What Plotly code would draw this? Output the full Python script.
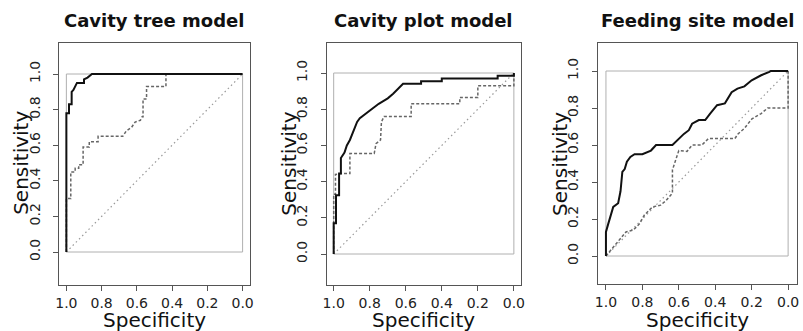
import plotly.graph_objects as go

# ---------------- data ----------------
titles = ["Cavity tree model", "Cavity plot model", "Feeding site model"]
tick_vals = [0.0, 0.2, 0.4, 0.6, 0.8, 1.0]
tick_text = ["0.0", "0.2", "0.4", "0.6", "0.8", "1.0"]
x_title = "Specificity"
y_title = "Sensitivity"

# Cavity tree model
tree_solid_spec = [1.0, 1.0, 0.985, 0.985, 0.97, 0.97, 0.96, 0.955, 0.94, 0.90, 0.90, 0.88, 0.87, 0.855, 0.0]
tree_solid_sens = [0.0, 0.78, 0.78, 0.83, 0.83, 0.90, 0.91, 0.92, 0.95, 0.95, 0.97, 0.98, 0.99, 1.0, 1.0]
tree_dash_spec = [1.0, 1.0, 0.975, 0.975, 0.95, 0.95, 0.93, 0.93, 0.905, 0.905, 0.87, 0.87, 0.82, 0.82,
                  0.68, 0.66, 0.63, 0.61, 0.58, 0.57, 0.565, 0.565, 0.545, 0.545, 0.435, 0.435, 0.0]
tree_dash_sens = [0.0, 0.30, 0.30, 0.45, 0.45, 0.47, 0.47, 0.49, 0.49, 0.59, 0.59, 0.62, 0.62, 0.65,
                  0.65, 0.68, 0.70, 0.73, 0.74, 0.76, 0.76, 0.86, 0.86, 0.93, 0.93, 1.0, 1.0]

# Cavity plot model
plot_solid_spec = [1.0, 1.0, 0.987, 0.987, 0.97, 0.97, 0.96, 0.96, 0.94, 0.927, 0.91, 0.895, 0.88, 0.87,
                   0.855, 0.83, 0.80, 0.75, 0.725, 0.70, 0.67, 0.64, 0.615, 0.515, 0.515, 0.40, 0.40,
                   0.09, 0.09, 0.0, 0.0]
plot_solid_sens = [0.0, 0.17, 0.17, 0.325, 0.325, 0.445, 0.445, 0.53, 0.56, 0.60, 0.63, 0.665, 0.70, 0.73,
                   0.75, 0.77, 0.795, 0.83, 0.845, 0.86, 0.885, 0.915, 0.94, 0.94, 0.955, 0.955, 0.97,
                   0.97, 0.985, 0.985, 1.0]
plot_dash_spec = [1.0, 1.0, 0.99, 0.99, 0.955, 0.91, 0.91, 0.775, 0.765, 0.74, 0.735, 0.72, 0.57, 0.57,
                  0.30, 0.30, 0.20, 0.20, 0.0, 0.0]
plot_dash_sens = [0.0, 0.33, 0.33, 0.44, 0.445, 0.445, 0.555, 0.555, 0.61, 0.63, 0.73, 0.76, 0.76, 0.83,
                  0.83, 0.865, 0.865, 0.93, 0.93, 1.0]

# Feeding site model
feed_solid_spec = [1.0, 1.0, 0.987, 0.975, 0.96, 0.933, 0.92, 0.91, 0.897, 0.885, 0.866, 0.843, 0.80,
                   0.753, 0.725, 0.635, 0.60, 0.572, 0.545, 0.527, 0.49, 0.455, 0.428, 0.39, 0.347,
                   0.31, 0.278, 0.24, 0.20, 0.148, 0.103, 0.095, 0.0]
feed_solid_sens = [0.0, 0.13, 0.175, 0.22, 0.265, 0.285, 0.35, 0.455, 0.47, 0.51, 0.535, 0.55, 0.55,
                   0.57, 0.60, 0.60, 0.635, 0.66, 0.68, 0.715, 0.735, 0.735, 0.77, 0.815, 0.825,
                   0.885, 0.905, 0.917, 0.95, 0.977, 0.995, 1.0, 1.0]
feed_dash_spec = [1.0, 0.89, 0.85, 0.815, 0.79, 0.745, 0.70, 0.67, 0.635, 0.635, 0.615, 0.60, 0.555,
                  0.527, 0.473, 0.437, 0.292, 0.275, 0.24, 0.20, 0.148, 0.112, 0.0, 0.0]
feed_dash_sens = [0.0, 0.13, 0.14, 0.175, 0.22, 0.265, 0.275, 0.30, 0.34, 0.465, 0.525, 0.57, 0.565,
                  0.60, 0.60, 0.635, 0.635, 0.66, 0.69, 0.74, 0.77, 0.80, 0.80, 1.0]

ref_spec = [1.0, 0.0]
ref_sens = [0.0, 1.0]
box_spec = [1.0, 0.0, 0.0, 1.0, 1.0]
box_sens = [0.0, 0.0, 1.0, 1.0, 0.0]

panels = [
    (tree_solid_spec, tree_solid_sens, tree_dash_spec, tree_dash_sens),
    (plot_solid_spec, plot_solid_sens, plot_dash_spec, plot_dash_sens),
    (feed_solid_spec, feed_solid_sens, feed_dash_spec, feed_dash_sens),
]

# ---------------- layout geometry (pixels) ----------------
W, H = 803, 331
# frame L, R, T, B ; x(1.0) px, x(0.0) px ; y(1.0) px, y(0.0) px
geom = [
    (56, 248, 43, 285, 63, 241, 74, 252),
    (326, 522, 43, 285, 333, 515, 73, 254),
    (600, 801, 43, 284, 608, 792, 71, 256),
]

FONT = "DejaVu Sans"
FRAME = "#555555"
fig = go.Figure()
layout = dict(
    width=W, height=H, margin=dict(l=0, r=0, t=0, b=0),
    paper_bgcolor="white", plot_bgcolor="white", showlegend=False,
    font=dict(family=FONT, size=14, color="#222222"),
)
annotations = []

for i, (g, data) in enumerate(zip(geom, panels)):
    L, R, T, B, a, b, c, d = g
    sx, sy, dx, dy = data
    xa = "xaxis" if i == 0 else f"xaxis{i+1}"
    ya = "yaxis" if i == 0 else f"yaxis{i+1}"
    xr = "x" if i == 0 else f"x{i+1}"
    yr = "y" if i == 0 else f"y{i+1}"
    ux = b - a
    uy = d - c
    xrange = [1 + (a - L) / ux, -(R - b) / ux]
    yrange = [-(B - d) / uy, 1 + (c - T) / uy]
    common = dict(showgrid=False, zeroline=False, showline=True, mirror=True,
                  linecolor=FRAME, linewidth=1, ticks="outside", ticklen=5,
                  tickcolor=FRAME, tickwidth=1, tickvals=tick_vals, ticktext=tick_text,
                  tickfont=dict(family=FONT, size=14, color="#222222"), fixedrange=True)
    layout[xa] = dict(common, domain=[L / W, R / W], range=xrange, anchor=yr,
                      ticklabelstandoff=0)
    layout[ya] = dict(common, domain=[1 - B / H, 1 - T / H], range=yrange, anchor=xr,
                      tickangle=-90, ticklabelstandoff=8)

    fig.add_trace(go.Scatter(x=box_spec, y=box_sens, mode="lines", xaxis=xr, yaxis=yr,
                             line=dict(color="#b0b0b0", width=1), hoverinfo="skip"))
    fig.add_trace(go.Scatter(x=ref_spec, y=ref_sens, mode="lines", xaxis=xr, yaxis=yr,
                             line=dict(color="#9a9a9a", width=1.2, dash="1.5px,3px"), hoverinfo="skip"))
    fig.add_trace(go.Scatter(x=dx, y=dy, mode="lines", xaxis=xr, yaxis=yr,
                             line=dict(color="#666666", width=1.5, dash="3px,2px")))
    fig.add_trace(go.Scatter(x=sx, y=sy, mode="lines", xaxis=xr, yaxis=yr,
                             line=dict(color="#111111", width=2)))

    cx = (L + R) / 2 / W
    annotations.append(dict(text=f"<b>{titles[i]}</b>", x=cx, y=1 - 20 / H, xref="paper", yref="paper",
                            xanchor="center", yanchor="middle", showarrow=False,
                            font=dict(family=FONT, size=18, color="#111111")))
    annotations.append(dict(text=x_title, x=(a + b) / 2 / W, y=1 - 320 / H, xref="paper", yref="paper",
                            xanchor="center", yanchor="middle", showarrow=False,
                            font=dict(family=FONT, size=20, color="#111111")))
    annotations.append(dict(text=y_title, x=(L - 39) / W, y=1 - (c + d) / 2 / H, xref="paper",
                            yref="paper", xanchor="center", yanchor="middle", showarrow=False,
                            textangle=-90, font=dict(family=FONT, size=20, color="#111111")))

layout["annotations"] = annotations
fig.update_layout(**layout)
fig.write_html("out.html")
